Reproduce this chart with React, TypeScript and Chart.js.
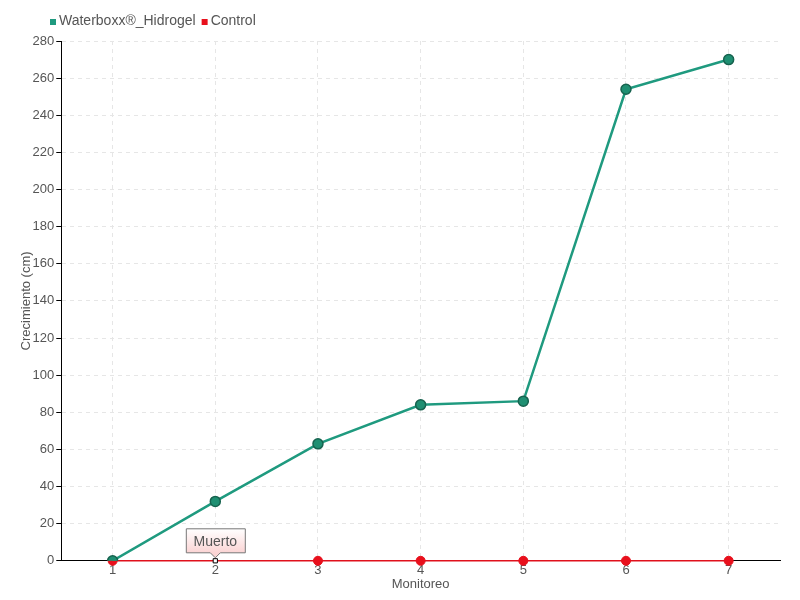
import React, { useEffect, useRef } from "react";
import { Chart, registerables } from "chart.js";

Chart.register(...registerables);

const categories = ["1", "2", "3", "4", "5", "6", "7"];
const waterboxxValues = [0, 32, 63, 84, 86, 254, 270];
const controlValues = [0, 0, 0, 0, 0, 0, 0];
const annotationIndex = 1;
const annotationText = "Muerto";

const FONT = "'Liberation Sans', Arial, sans-serif";
const TEXT = "#555555";

const legendPlugin = {
  id: "topLegend",
  afterDraw(chart: any) {
    const ctx = chart.ctx;
    ctx.save();
    ctx.font = "14px " + FONT;
    ctx.textBaseline = "middle";
    ctx.textAlign = "left";
    let x = 50;
    const y = 21;
    chart.data.datasets.forEach((ds: any) => {
      ctx.fillStyle = ds.backgroundColor;
      ctx.fillRect(x, y - 2, 6, 6);
      ctx.fillStyle = TEXT;
      ctx.fillText(ds.label, x + 9, y);
      x += 9 + ctx.measureText(ds.label).width + 6;
    });
    ctx.restore();
  },
};

const tooltipPlugin = {
  id: "muertoLabel",
  afterDraw(chart: any) {
    const ctx = chart.ctx;
    const xs = chart.scales.x;
    const ys = chart.scales.y;
    const px = xs.getPixelForValue(annotationIndex);
    const py = ys.getPixelForValue(controlValues[annotationIndex]);
    const w = 59;
    const h = 24;
    const left = px - 29;
    const bottom = py - 8;
    const top = bottom - h;
    ctx.save();
    const g = ctx.createLinearGradient(0, top, 0, bottom);
    g.addColorStop(0, "#ffffff");
    g.addColorStop(1, "#fbd4d4");
    ctx.beginPath();
    ctx.moveTo(left, top);
    ctx.lineTo(left + w, top);
    ctx.lineTo(left + w, bottom);
    ctx.lineTo(px + 5, bottom);
    ctx.lineTo(px, bottom + 5);
    ctx.lineTo(px - 5, bottom);
    ctx.lineTo(left, bottom);
    ctx.closePath();
    ctx.fillStyle = g;
    ctx.fill();
    ctx.strokeStyle = "#777777";
    ctx.lineWidth = 1;
    ctx.stroke();
    ctx.fillStyle = TEXT;
    ctx.font = "14px " + FONT;
    ctx.textAlign = "center";
    ctx.textBaseline = "middle";
    ctx.fillText(annotationText, px, top + h / 2 + 1);
    ctx.restore();
  },
};

export default function App() {
  const ref = useRef<HTMLCanvasElement>(null);
  useEffect(() => {
    document.body.style.margin = "0";
    const chart = new Chart(ref.current as HTMLCanvasElement, {
      type: "line",
      data: {
        labels: categories,
        datasets: [
          {
            label: "Waterboxx®_Hidrogel",
            data: waterboxxValues,
            borderColor: "#1f9a7f",
            backgroundColor: "#1f9a7f",
            pointBackgroundColor: "#1f8f72",
            pointBorderColor: "#17634f",
            pointBorderWidth: 1.5,
            pointRadius: 5,
            borderWidth: 2.5,
            tension: 0,
          },
          {
            label: "Control",
            data: controlValues,
            borderColor: "#e0101c",
            backgroundColor: "#e8101c",
            pointBackgroundColor: categories.map((_, i) => (i === annotationIndex ? "#ffffff" : "#e8101c")),
            pointBorderColor: categories.map((_, i) => (i === annotationIndex ? "#000000" : "#e8101c")),
            pointStyle: categories.map((_, i) => (i === annotationIndex ? "rect" : "circle")) as any,
            pointRadius: categories.map((_, i) => (i === annotationIndex ? 3 : 4.5)),
            pointBorderWidth: 1,
            borderWidth: 1.5,
            tension: 0,
            clip: false,
          } as any,
        ],
      },
      options: {
        animation: false,
        responsive: false,
        maintainAspectRatio: false,
        layout: { padding: { left: 16, right: 20, top: 41, bottom: 8 } },
        plugins: {
          tooltip: { enabled: false },
          legend: { display: false },
        },
        scales: {
          x: {
            offset: true,
            grid: {
              offset: false,
              color: "#e6e6e6",
              drawTicks: false,
            } as any,
            border: { color: "#000000", dash: [4, 4] } as any,
            ticks: { color: TEXT, padding: 2, font: { family: FONT, size: 13 } },
            title: {
              display: true,
              text: "Monitoreo",
              color: TEXT,
              padding: { top: -4, bottom: 0 },
              font: { family: FONT, size: 13 },
            },
          },
          y: {
            min: 0,
            max: 280,
            grid: {
              color: "#e6e6e6",
              tickColor: "#000000",
              tickLength: 5,
              tickBorderDash: [],
            } as any,
            border: { color: "#000000", dash: [4, 4] } as any,
            ticks: { stepSize: 20, color: TEXT, padding: 2, font: { family: FONT, size: 13 } },
            title: {
              display: true,
              text: "Crecimiento (cm)",
              color: TEXT,
              padding: { top: 3, bottom: -4 },
              font: { family: FONT, size: 13 },
            },
          },
        },
      },
      plugins: [legendPlugin, tooltipPlugin],
    });
    return () => chart.destroy();
  }, []);
  return (
    <div style={{ width: 800, height: 600 }}>
      <canvas ref={ref} width={800} height={600} style={{ width: 800, height: 600, display: "block" }} />
    </div>
  );
}
